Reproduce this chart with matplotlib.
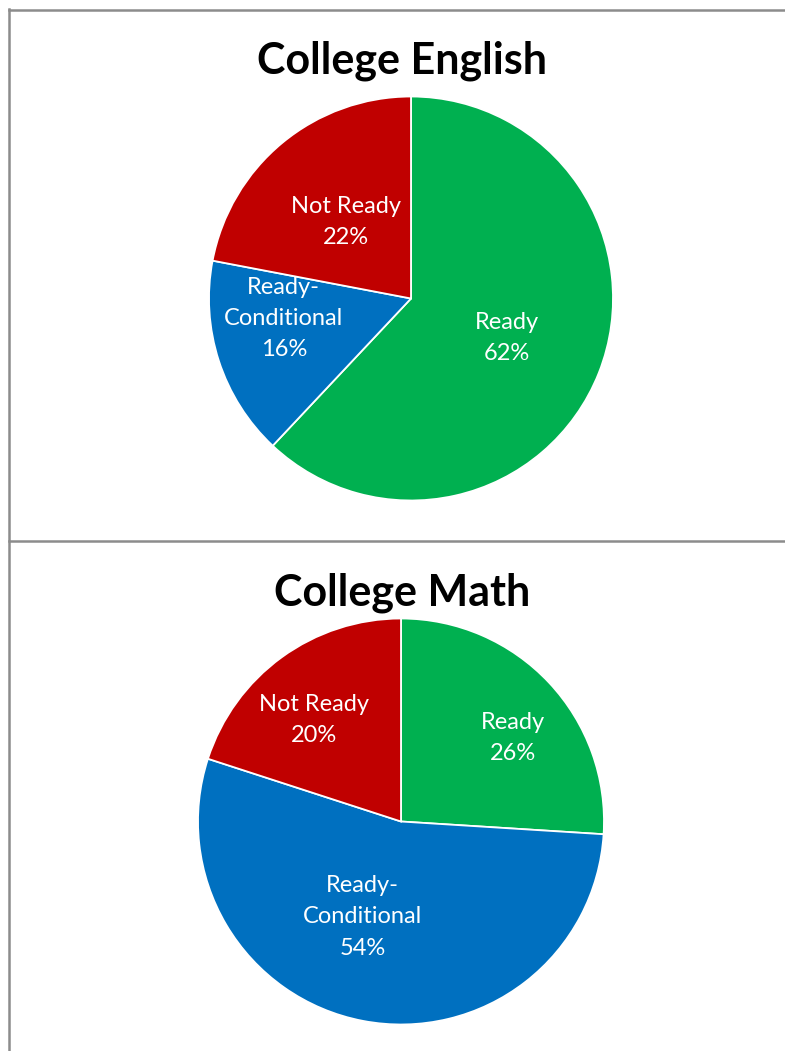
import matplotlib
matplotlib.use("Agg")
import matplotlib.pyplot as plt
from matplotlib.lines import Line2D

W, H = 785, 1051

titles = ["College English", "College Math"]
categories = ["Ready", "Ready-\nConditional", "Not Ready"]
english_values = [62, 16, 22]
math_values = [26, 54, 20]
colors = ["#00B050", "#0070C0", "#C00000"]

# layout: (center x, center y, radius) in pixels, title y
pies = [
    dict(cx=411, cy=298.5, r=202, ty=61, tx=402,
         lab=[(0.93 * 0.51, -0.38 * 0.51), (-0.63, -0.10), (-0.32, 0.38)]),
    dict(cx=401, cy=821.5, r=203, ty=593, tx=402,
         lab=[(0.55, 0.41), (-0.19, -0.47), (-0.43, 0.50)]),
]

fig = plt.figure(figsize=(W / 100, H / 100), dpi=100)
plt.rcParams['font.family'] = ['Lato', 'DejaVu Sans']

for vals, title, p in zip([english_values, math_values], titles, pies):
    ax = fig.add_axes([(p['cx'] - p['r']) / W, (H - p['cy'] - p['r']) / H,
                       2 * p['r'] / W, 2 * p['r'] / H])
    wedges, _ = ax.pie(vals, colors=colors, startangle=90, counterclock=False,
                       radius=1, wedgeprops=dict(edgecolor="white", linewidth=1.3))
    ax.set_xlim(-1.0, 1.0)
    ax.set_ylim(-1.0, 1.0)
    ax.set_aspect('equal')
    ax.axis('off')
    for cat, v, (lx, ly) in zip(categories, vals, p['lab']):
        ax.text(lx, ly, f"{cat}\n{v}%", ha='center', va='center', color='white',
                fontsize=17, linespacing=1.6)
    fig.text(p['tx'] / W, 1 - p['ty'] / H, title, ha='center', va='center',
             fontsize=31, fontweight='bold', color='black')

# panel borders
gray = "#8c8c8c"
fig.add_artist(Line2D([9 / W, 9 / W], [0, 1 - 9 / H], color=gray, lw=1.8, transform=fig.transFigure))
fig.add_artist(Line2D([9 / W, 1], [1 - 9.5 / H, 1 - 9.5 / H], color=gray, lw=1.8, transform=fig.transFigure))
fig.add_artist(Line2D([9 / W, 1], [1 - 540.5 / H, 1 - 540.5 / H], color=gray, lw=1.8, transform=fig.transFigure))

fig.savefig("out.png", dpi=100, facecolor="white")
